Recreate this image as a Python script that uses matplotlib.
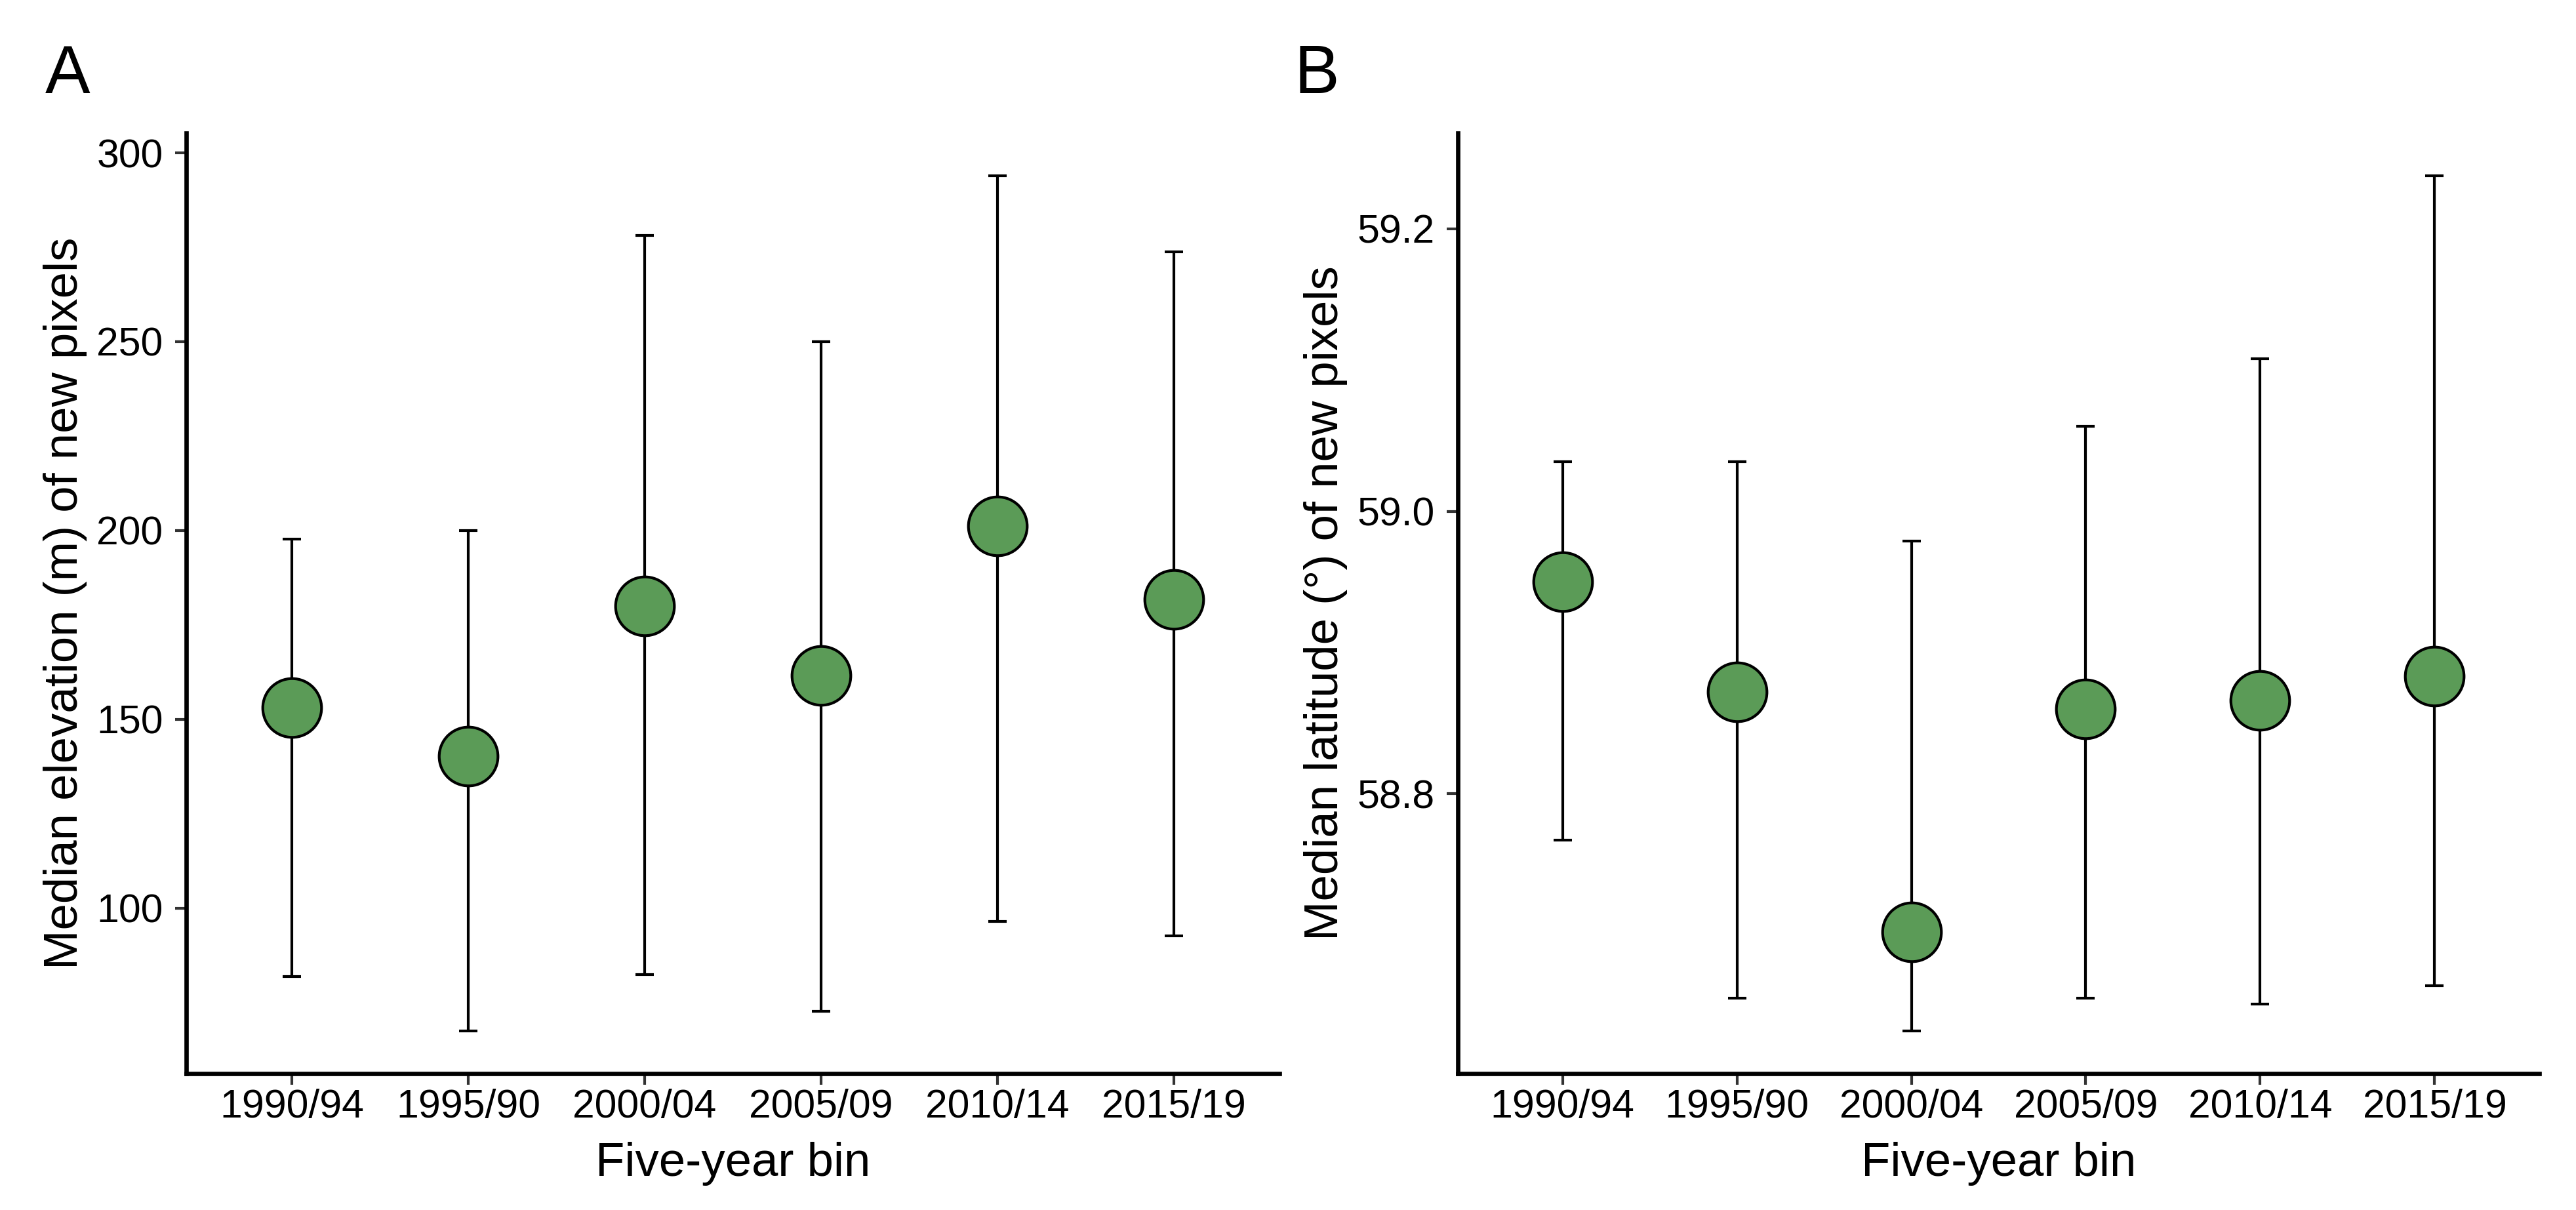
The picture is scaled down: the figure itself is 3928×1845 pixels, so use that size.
import matplotlib
matplotlib.use("Agg")
import matplotlib.pyplot as plt
import numpy as np

plt.rcParams['font.family'] = ['Liberation Sans', 'DejaVu Sans']

# ---- data ----
bins = ['1990/94', '1995/90', '2000/04', '2005/09', '2010/14', '2015/19']

elev_median = [153.0, 140.3, 180.0, 161.6, 201.2, 181.8]
elev_lower = [81.8, 67.5, 82.4, 72.6, 96.5, 92.6]
elev_upper = [197.8, 200.0, 278.1, 250.0, 293.9, 273.8]
elev_ticks = [100, 150, 200, 250, 300]

lat_median = [58.950, 58.872, 58.702, 58.860, 58.866, 58.883]
lat_lower = [58.767, 58.655, 58.632, 58.655, 58.651, 58.664]
lat_upper = [59.035, 59.035, 58.979, 59.060, 59.108, 59.2375]
lat_ticks = [58.8, 59.0, 59.2]

W, H, DPI = 3928, 1845, 300
fig = plt.figure(figsize=(W / DPI, H / DPI), dpi=DPI)
fig.patch.set_facecolor('white')

ax_top, ax_bot = 203, 1637
axA = fig.add_axes([284 / W, 1 - ax_bot / H, (1951 - 284) / W, (ax_bot - ax_top) / H])
axB = fig.add_axes([2223 / W, 1 - ax_bot / H, (3872 - 2223) / W, (ax_bot - ax_top) / H])

GREEN = '#5b9b57'


def panel(ax, med, lo, hi, ticks, fmt, ylabel, ylab_x):
    x = np.arange(1, len(bins) + 1)
    med = np.asarray(med)
    lo = np.asarray(lo)
    hi = np.asarray(hi)
    ax.errorbar(x, med, yerr=[med - lo, hi - med], fmt='none', ecolor='black',
                elinewidth=1.0, capsize=3.4, capthick=1.0, zorder=2)
    ax.plot(x, med, 'o', ms=21.5, mfc=GREEN, mec='black', mew=1.0, zorder=3,
            clip_on=False)
    ax.set_xlim(0.4, len(bins) + 0.6)
    rng = hi.max() - lo.min()
    ax.set_ylim(lo.min() - 0.05 * rng, hi.max() + 0.05 * rng)
    ax.set_xticks(x)
    ax.set_xticklabels(bins)
    ax.set_yticks(ticks)
    ax.set_yticklabels([fmt.format(t) for t in ticks])
    for s in ['top', 'right']:
        ax.spines[s].set_visible(False)
    for s in ['left', 'bottom']:
        ax.spines[s].set_linewidth(1.6)
        ax.spines[s].set_color('black')
        ax.spines[s].set_capstyle('projecting')
    ax.tick_params(axis='both', length=4, width=1.0, color='#333333',
                   labelsize=14.6, labelcolor='black')
    ax.tick_params(axis='x', pad=1.5)
    ax.tick_params(axis='y', pad=4.5)
    ax.set_xlabel('Five-year bin', fontsize=17.4)
    ax.xaxis.label.set_va('baseline')
    ax.xaxis.set_label_coords(0.5, (ax_bot - 1793) / (ax_bot - ax_top))
    ax.set_ylabel(ylabel, fontsize=17.4)
    ax.yaxis.label.set_va('baseline')
    ax.yaxis.set_label_coords(ylab_x, 0.5)


panel(axA, elev_median, elev_lower, elev_upper, elev_ticks, '{:.0f}',
      'Median elevation (m) of new pixels', (118 - 284) / (1951 - 284))
panel(axB, lat_median, lat_lower, lat_upper, lat_ticks, '{:.1f}',
      'Median latitude (°) of new pixels', (2040 - 2223) / (3872 - 2223))

fig.text(69 / W, 1 - 142 / H, 'A', fontsize=24.7, ha='left', va='baseline')
fig.text(1974 / W, 1 - 142 / H, 'B', fontsize=24.7, ha='left', va='baseline')

fig.savefig('out.png', dpi=DPI, facecolor='white')
